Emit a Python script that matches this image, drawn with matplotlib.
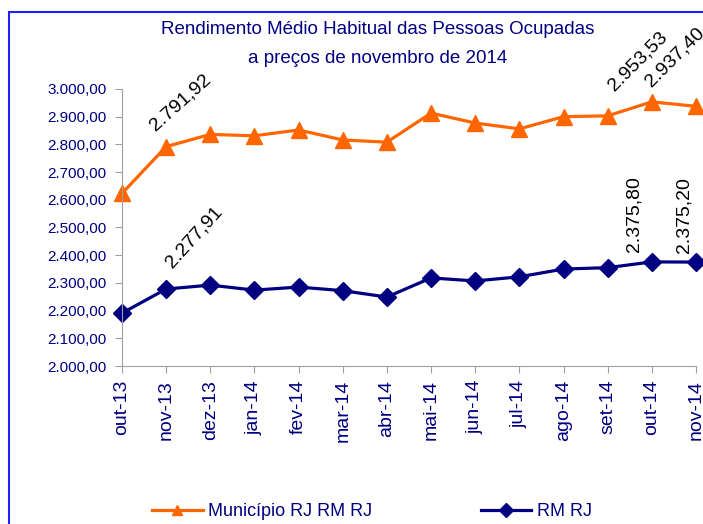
import matplotlib
matplotlib.use("Agg")
import matplotlib.pyplot as plt
from matplotlib.patches import Rectangle
from matplotlib.ticker import FuncFormatter, MultipleLocator

plt.rcParams['font.family'] = ['Liberation Sans', 'DejaVu Sans']

# dados
meses = ["out-13", "nov-13", "dez-13", "jan-14", "fev-14", "mar-14", "abr-14",
         "mai-14", "jun-14", "jul-14", "ago-14", "set-14", "out-14", "nov-14"]
municipio = [2623, 2791.92, 2836, 2831, 2852, 2816, 2808,
             2913, 2877, 2856, 2900, 2903, 2953.53, 2937.40]
rm_rj = [2191, 2277.91, 2292, 2274, 2285, 2272, 2249,
         2318, 2307, 2322, 2350, 2355, 2375.80, 2375.20]

# rotulos (indice, rotacao, deslocamento em pixels)
rot_municipio = [(1, 42, (-19, 13)), (12, 45, (-47, 8)), (13, 45, (-54, 16))]
rot_rm = [(1, 48, (-4, 18)), (12, 90, (-26, 10)), (13, 90, (-20, 9))]

laranja = "#FF6600"
marinho = "#000080"
cinza = "#A0A0A0"


def fmt_br(v, pos=None):
    s = "{:,.2f}".format(v)
    return s.replace(",", "X").replace(".", ",").replace("X", ".")


fig = plt.figure(figsize=(7.03, 5.24), dpi=100)
ax = fig.add_axes([0.1735, 0.3015, 0.8165, 0.5287])

x = list(range(len(meses)))
ax.plot(x, municipio, color=laranja, lw=2.3, marker="^", ms=11,
        label="Município RJ RM RJ", clip_on=False)
ax.plot(x, rm_rj, color=marinho, lw=2.3, marker="D", ms=9.5,
        label="RM RJ", clip_on=False)

for serie, rots in [(municipio, rot_municipio), (rm_rj, rot_rm)]:
    for i, ang, off in rots:
        ax.annotate(fmt_br(serie[i]), (x[i], serie[i]), xytext=off,
                    textcoords="offset pixels", rotation=ang,
                    ha="left", va="bottom", fontsize=14, color="black",
                    annotation_clip=False)

ax.set_xlim(0, 13)
ax.set_ylim(2000, 3000)
ax.yaxis.set_major_locator(MultipleLocator(100))
ax.yaxis.set_major_formatter(FuncFormatter(fmt_br))
ax.set_xticks(x)
ax.set_xticklabels(meses, rotation=90)

for s in ["top", "right"]:
    ax.spines[s].set_visible(False)
for s in ["left", "bottom"]:
    ax.spines[s].set_color(cinza)
ax.tick_params(axis="y", colors=cinza, labelcolor=marinho, labelsize=11,
               length=5, pad=6)
ax.tick_params(axis="x", colors=cinza, labelcolor=marinho, labelsize=14,
               length=5, pad=5)

fig.text(0.537, 0.943, "Rendimento Médio Habitual das Pessoas Ocupadas",
         ha="center", va="center", fontsize=13.5, color=marinho)
fig.text(0.537, 0.889, "a preços de novembro de 2014",
         ha="center", va="center", fontsize=13.5, color=marinho)

leg = fig.legend(loc="center", bbox_to_anchor=(0.529, 0.023), ncol=2,
                 frameon=False, fontsize=13, labelcolor=marinho,
                 handlelength=2.8, handletextpad=0.3, columnspacing=6.0,
                 markerscale=0.7)

# moldura azul
fig.patches.append(Rectangle((9 / 703, -0.2), 1.2, 1 - 12 / 524 + 0.2,
                             transform=fig.transFigure, fill=False,
                             edgecolor="#1E1EFF", lw=1.5))

fig.savefig("out.png", dpi=100)
